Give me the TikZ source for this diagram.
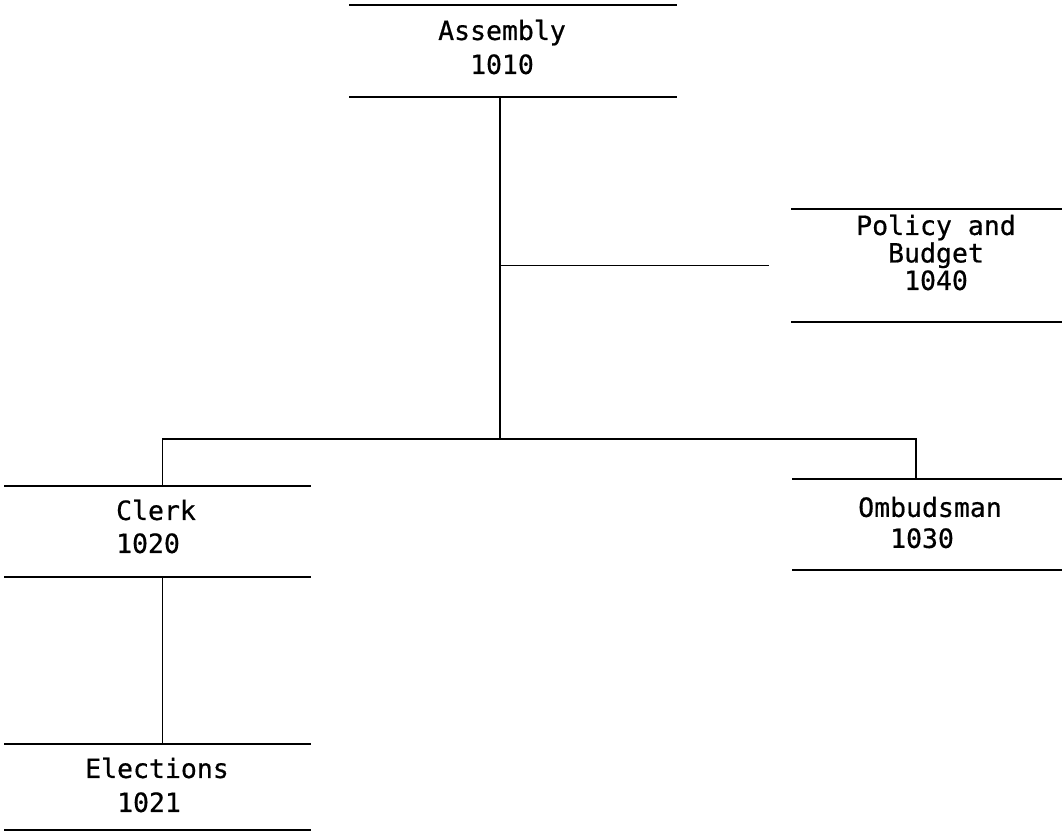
\documentclass[tikz,border=0pt]{standalone}
\usepackage{fontspec}
\newfontfamily\monofont[FakeBold=0.6]{DejaVu Sans Mono}
\begin{document}
\begin{tikzpicture}[x=1pt,y=-1pt]
\tikzset{
  rule/.style={line width=1.7pt, line cap=rect},
  unitbox/.style={rectangle, inner sep=0pt, draw=none,
    append after command={
      (\tikzlastnode.north west) edge[rule] (\tikzlastnode.north east)
      (\tikzlastnode.south west) edge[rule] (\tikzlastnode.south east)}},
  lbl/.style={align=left, inner sep=0pt, font=\monofont\fontsize{26.5}{#1}\selectfont},
  lbl/.default=33
}
\useasboundingbox (0,0) rectangle (1062,836);
% boxes (top and bottom rules)
\node[unitbox, minimum width=326pt, minimum height=92pt]  (asm) at (513,51) {};
\node[unitbox, minimum width=270pt, minimum height=113pt] (pol) at (927,265.5) {};
\node[unitbox, minimum width=305pt, minimum height=91pt]  (clk) at (157.5,531.5) {};
\node[unitbox, minimum width=269pt, minimum height=91pt]  (omb) at (927.5,524.5) {};
\node[unitbox, minimum width=305pt, minimum height=86pt]  (ele) at (157.5,787) {};
% labels
\node[lbl=34]   (asmT) at (502,47)    {Assembly\\\phantom{00}1010};
\node[lbl=27.5] (polT) at (936,252.5) {Policy and\\\phantom{00}Budget\\\phantom{000}1040};
\node[lbl=33]   (clkT) at (156,526.5) {Clerk\\1020};
\node[lbl=31]   (ombT) at (930,522.5) {Ombudsman\\\phantom{00}1030};
\node[lbl=34]   (eleT) at (157,785)   {Elections\\\phantom{00}1021};
% connectors
\coordinate (trunk) at ([xshift=-13pt]asm.south);
\coordinate (j) at (500,439);
\coordinate (clkTop) at ([xshift=5pt]clk.north);
\coordinate (ombTop) at ([xshift=-11.5pt]omb.north);
\coordinate (polEnd) at ([xshift=-24pt]pol.west);
\draw[rule] (trunk) -- (j);
\draw[rule] (trunk |- polEnd) -- (polEnd);
\draw[rule] (clkTop) |- (j) -| (ombTop);
\draw[rule] ([xshift=5pt]clk.south) -- ([xshift=5pt]ele.north);
\end{tikzpicture}
\end{document}
